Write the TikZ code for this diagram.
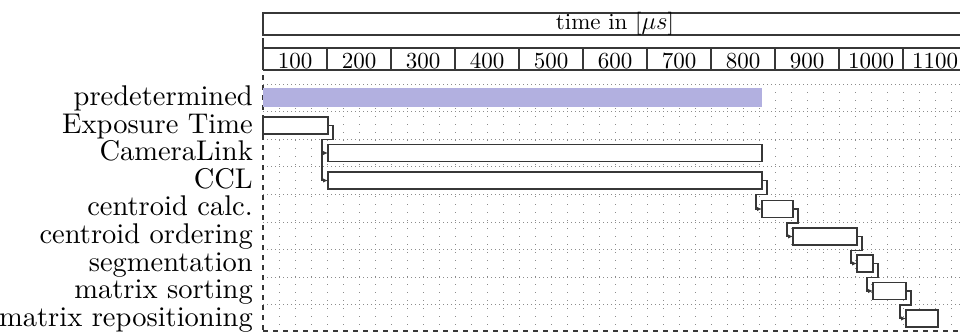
\documentclass[tikz,border=0pt]{standalone}
\usepackage{fontspec}
\setmainfont{lmroman10-regular.otf}[ItalicFont=lmroman10-italic.otf,BoldFont=lmroman10-bold.otf]
\usetikzlibrary{arrows.meta,calc}
\definecolor{predblue}{RGB}{178,176,224}
\definecolor{frame}{RGB}{55,55,55}
\definecolor{gridc}{RGB}{140,140,140}
\tikzset{
  lbl/.style={anchor=base east,inner sep=0pt,font=\fontsize{28.5}{30}\selectfont},
  num/.style={anchor=base,inner sep=0pt,font=\fontsize{23}{25}\selectfont},
  bar/.style={draw=frame,line width=1.8pt,fill=white,inner sep=0pt,outer sep=0pt,anchor=west,minimum height=17pt},
  predbar/.style={fill=predblue,inner sep=0pt,outer sep=0pt,anchor=west,minimum height=19pt},
  link/.style={draw=frame,line width=1.5pt,-{Latex[length=5pt,width=4.5pt]}},
  boxline/.style={draw=frame,line width=1.6pt},
  vgrid/.style={gridc,line width=1pt,dash pattern=on 1pt off 7pt},
  hgrid/.style={gridc,line width=1pt,dash pattern=on 1pt off 3pt},
  edge/.style={frame,line width=1.2pt,dash pattern=on 5pt off 5pt}
}
\begin{document}
\begin{tikzpicture}[x=1pt,y=-1pt]
\useasboundingbox (0,0) rectangle (960,332);
\clip (0,0) rectangle (960,332);
% title
\draw[boxline] (263,13) rectangle (975,35);
\node[num] (title) at (615,29.5) {time in [$\mu s$]};
% numbers row
\draw[boxline] (263,38) -- (263,70);
\draw[boxline] (263,48) -- (975,48);
\draw[boxline] (263,70) -- (975,70);
\foreach \k in {1,...,11} {\draw[boxline] (263+64*\k,48) -- (263+64*\k,70);}
\foreach \k/\t in {0/100,1/200,2/300,3/400,4/500,5/600,6/700,7/800,8/900,9/1000,10/1100}
  {\node[num] (n\k) at (263+64*\k+32,68) {\t};}
% grid
\foreach \k in {1,...,44} {\draw[vgrid] (263+16*\k,84) -- (263+16*\k,331);}
\foreach \i in {0,...,8} {\draw[hgrid] (263,84+27.6*\i) -- (975,84+27.6*\i);}
\draw[edge] (263,75) -- (263,331);
\draw[edge] (263,331) -- (975,331);
% labels
\node[lbl] (l1) at (253,105.5) {predetermined};
\node[lbl] (l2) at (253,133.1) {Exposure Time};
\node[lbl] (l3) at (253,160.7) {CameraLink};
\node[lbl] (l4) at (253,188.3) {CCL};
\node[lbl] (l5) at (253,215.9) {centroid calc.};
\node[lbl] (l6) at (253,243.5) {centroid ordering};
\node[lbl] (l7) at (253,271.1) {segmentation};
\node[lbl] (l8) at (253,298.7) {matrix sorting};
\node[lbl] (l9) at (253,326.3) {matrix repositioning};
% bars
\node[predbar,minimum width=499pt] (b1) at (263,97.5) {};
\node[bar,minimum width=65pt] (b2) at (263,125.5) {};
\node[bar,minimum width=434pt] (b3) at (328,153) {};
\node[bar,minimum width=434pt] (b4) at (328,180.5) {};
\node[bar,minimum width=31pt] (b5) at (762,209) {};
\node[bar,minimum width=64pt] (b6) at (793,236.5) {};
\node[bar,minimum width=16pt] (b7) at (857,263.5) {};
\node[bar,minimum width=33pt] (b8) at (873,291) {};
\node[bar,minimum width=32pt] (b9) at (906,318.5) {};
% links
\draw[link] (b2.east) -- ++(5,0) -- ++(0,14) -| ([xshift=-6pt]b3.west) -- (b3.west);
\draw[link] (b2.east) -- ++(5,0) -- ++(0,14) -| ([xshift=-6pt]b4.west) -- (b4.west);
\draw[link] (b4.east) -- ++(5,0) -- ++(0,14) -| ([xshift=-6pt]b5.west) -- (b5.west);
\draw[link] (b5.east) -- ++(5,0) -- ++(0,14) -| ([xshift=-6pt]b6.west) -- (b6.west);
\draw[link] (b6.east) -- ++(5,0) -- ++(0,14) -| ([xshift=-6pt]b7.west) -- (b7.west);
\draw[link] (b7.east) -- ++(5,0) -- ++(0,14) -| ([xshift=-6pt]b8.west) -- (b8.west);
\draw[link] (b8.east) -- ++(5,0) -- ++(0,14) -| ([xshift=-6pt]b9.west) -- (b9.west);
\end{tikzpicture}
\end{document}
